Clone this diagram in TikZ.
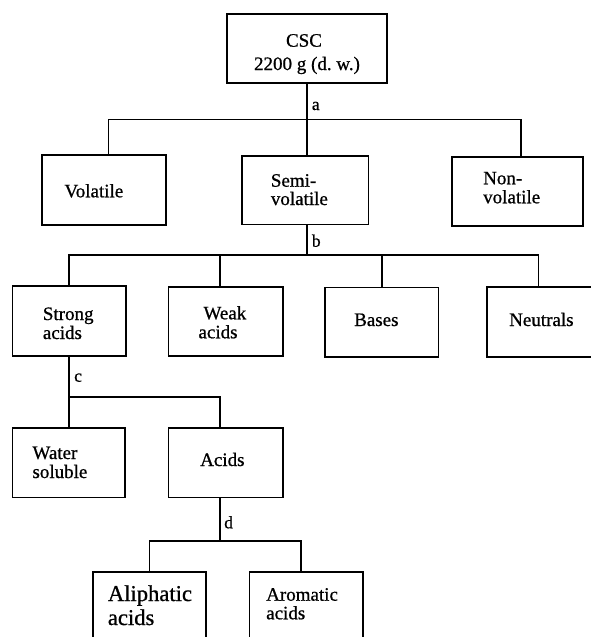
\documentclass[tikz,border=0pt]{standalone}
\usepackage{fontspec}
\setmainfont{Liberation Serif}[RawFeature={embolden=0.8}]
\usetikzlibrary{fit}
\begin{document}
\begin{tikzpicture}[x=1pt,y=-1pt,
  box/.style={draw, line width=1.6pt, inner sep=0pt},
  conn/.style={line width=1.6pt},
  txt/.style={anchor=base west, inner sep=0pt, font=\fontsize{19}{19}\selectfont},
  ctxt/.style={anchor=base, inner sep=0pt, font=\fontsize{19}{19}\selectfont},
  bigtxt/.style={anchor=base west, inner sep=0pt, font=\fontsize{22.6}{23}\selectfont},
  lbl/.style={anchor=base west, inner sep=0pt, font=\fontsize{17.5}{17.5}\selectfont}]
\useasboundingbox (0,0) rectangle (590,637);
\fill[white] (0,0) rectangle (590,637);

% boxes
\node[box, fit={(227,14) (387,83)}] (csc) {};
\node[box, fit={(41.7,155) (166,225)}] (vol) {};
\node[box, fit={(241.7,156) (368.3,224.5)}] (semi) {};
\node[box, fit={(451.7,156.7) (582.7,226)}] (nonvol) {};
\node[box, fit={(12.3,286) (125.7,355.7)}] (strong) {};
\node[box, fit={(168.3,286.7) (282.7,356)}] (weak) {};
\node[box, fit={(325,287.3) (438.3,356.7)}] (bases) {};
\node[box, fit={(486.7,287) (598,357)}] (neut) {};
\node[box, fit={(12.3,427.7) (125,497.3)}] (water) {};
\node[box, fit={(168.3,427.7) (282.7,497.3)}] (acids) {};
\node[box, fit={(92.7,571.7) (206,648)}] (aliph) {};
\node[box, fit={(249.3,571.7) (362.7,648)}] (arom) {};

% texts
\node[ctxt] (tcsc1) at (304,46.7) {CSC};
\node[ctxt] (tcsc2) at (307,70) {2200 g (d.\ w.)};
\node[txt] (tvol) at (64.3,197.3) {Volatile};
\node[txt] (tsemi1) at (270.7,186.7) {Semi-};
\node[txt] (tsemi2) at (270.7,205) {volatile};
\node[txt] (tnon1) at (483,184.3) {Non-};
\node[txt] (tnon2) at (483,203.3) {volatile};
\node[txt] (tstr1) at (42.7,320) {Strong};
\node[txt] (tstr2) at (42.7,339) {acids};
\node[txt] (tweak1) at (203.3,319.3) {Weak};
\node[txt] (tweak2) at (198.3,338.3) {acids};
\node[txt] (tbases) at (354,326) {Bases};
\node[txt] (tneut) at (509,326) {Neutrals};
\node[txt] (twat1) at (32.3,459) {Water};
\node[txt] (twat2) at (32.3,478) {soluble};
\node[txt] (tacids) at (200,466) {Acids};
\node[bigtxt] (tali1) at (107.7,601) {Aliphatic};
\node[bigtxt] (tali2) at (107.7,625) {acids};
\node[txt] (taro1) at (266,600.7) {Aromatic};
\node[txt] (taro2) at (266,619.3) {acids};

% junction coordinates
\coordinate (ja) at (307,119.3);
\coordinate (aL) at (108.3,119.3);
\coordinate (aR) at (520.7,119.3);
\coordinate (jb) at (307,255);
\coordinate (bL) at (69,255);
\coordinate (bW) at (220,255);
\coordinate (bB) at (381.7,255);
\coordinate (bR) at (538.3,255);
\coordinate (cL) at (69,396.7);
\coordinate (cR) at (220,396.7);
\coordinate (jd) at (220,540.7);
\coordinate (dL) at (149.3,540.7);
\coordinate (dR) at (300.7,540.7);

% connectors
\draw[conn] (ja |- csc.south) -- (ja);
\draw[conn] (aL |- vol.north) -- (aL) -- (aR) -- (aR |- nonvol.north);
\draw[conn] (ja) -- (ja |- semi.north);

\draw[conn] (jb |- semi.south) -- (jb);
\draw[conn] (bL |- strong.north) -- (bL) -- (bR) -- (bR |- neut.north);
\draw[conn] (bW) -- (bW |- weak.north);
\draw[conn] (bB) -- (bB |- bases.north);

\draw[conn] (cL |- strong.south) -- (cL |- water.north);
\draw[conn] (cL) -- (cR) -- (cR |- acids.north);

\draw[conn] (jd |- acids.south) -- (jd);
\draw[conn] (dL |- aliph.north) -- (dL) -- (dR) -- (dR |- arom.north);

% labels
\node[lbl] (la) at (311.7,110) {a};
\node[lbl] (lb) at (311.7,246.7) {b};
\node[lbl] (lc) at (74,381.7) {c};
\node[lbl] (ld) at (224,528.3) {d};
\end{tikzpicture}
\end{document}
